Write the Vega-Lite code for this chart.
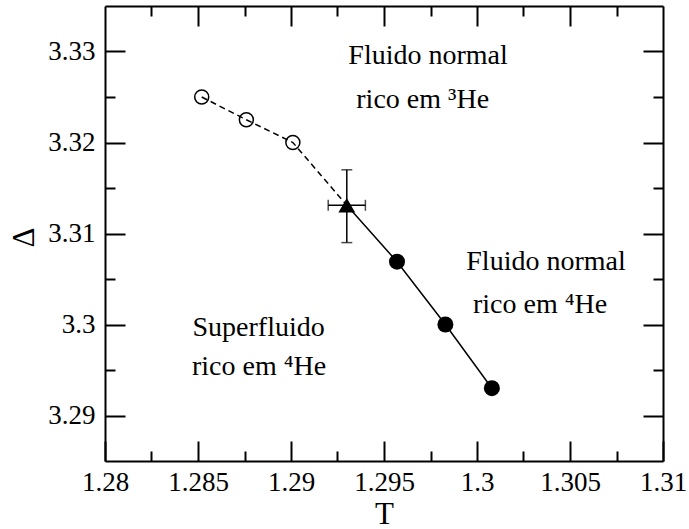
{
  "$schema": "https://vega.github.io/schema/vega-lite/v6.json",
  "autosize": {"type": "none"},
  "width": 558,
  "height": 455,
  "padding": {"left": 105, "top": 6, "right": 26, "bottom": 68},
  "background": "white",
  "config": {
    "view": {"stroke": null},
    "axis": {
      "grid": false,
      "domainColor": "black",
      "domainWidth": 2,
      "tickColor": "black",
      "tickWidth": 2,
      "labelColor": "black",
      "labelFont": "Liberation Serif, Times New Roman, serif",
      "labelFontSize": 27,
      "titleFont": "Liberation Serif, Times New Roman, serif",
      "titleFontSize": 31,
      "titleFontWeight": "normal",
      "titleColor": "black"
    }
  },
  "datasets": {
    "dashed": [
      {"T": 1.2852, "D": 3.3250},
      {"T": 1.2876, "D": 3.3225},
      {"T": 1.2901, "D": 3.3200},
      {"T": 1.2930, "D": 3.3131}
    ],
    "solid": [
      {"T": 1.2930, "D": 3.3131},
      {"T": 1.2957, "D": 3.3069},
      {"T": 1.2983, "D": 3.3000},
      {"T": 1.3008, "D": 3.2930}
    ],
    "open": [
      {"T": 1.2852, "D": 3.3250},
      {"T": 1.2876, "D": 3.3225},
      {"T": 1.2901, "D": 3.3200}
    ],
    "filled": [
      {"T": 1.2957, "D": 3.3069},
      {"T": 1.2983, "D": 3.3000},
      {"T": 1.3008, "D": 3.2930}
    ],
    "critical": [
      {"T": 1.2930, "D": 3.3131, "Tlo": 1.2920, "Thi": 1.2940, "Dlo": 3.3090, "Dhi": 3.3170}
    ],
    "labels": [
      {"T": 1.29737, "D": 3.32865, "label": "Fluido normal"},
      {"T": 1.29708, "D": 3.32383, "label": "rico em ³He"},
      {"T": 1.30371, "D": 3.30599, "label": "Fluido normal"},
      {"T": 1.30339, "D": 3.30124, "label": "rico em ⁴He"},
      {"T": 1.28826, "D": 3.29875, "label": "Superfluido"},
      {"T": 1.28828, "D": 3.29447, "label": "rico em ⁴He"}
    ]
  },
  "resolve": {"axis": {"x": "independent", "y": "independent"}},
  "layer": [
    {
      "data": {"name": "dashed"},
      "mark": {"type": "line", "color": "black", "strokeWidth": 1.5, "strokeDash": [6, 4]},
      "encoding": {
        "x": {
          "field": "T", "type": "quantitative",
          "scale": {"domain": [1.28, 1.31], "nice": false, "zero": false},
          "axis": {
            "orient": "bottom",
            "values": [1.28, 1.2825, 1.285, 1.2875, 1.29, 1.2925, 1.295, 1.2975, 1.3, 1.3025, 1.305, 1.3075, 1.31],
            "labelExpr": "abs(datum.value*200 - round(datum.value*200)) < 0.001 ? '' + datum.value : ''",
            "tickSize": {"condition": {"test": "abs(datum.value*200 - round(datum.value*200)) < 0.001", "value": -20}, "value": -10},
            "labelPadding": 28,
            "labelFlush": false,
            "labelOverlap": false,
            "title": "T",
            "titleX": 279,
            "titleY": 62,
            "titleAlign": "center",
            "titleBaseline": "alphabetic"
          }
        },
        "y": {
          "field": "D", "type": "quantitative",
          "scale": {"domain": [3.285, 3.335], "nice": false, "zero": false},
          "axis": {
            "orient": "left",
            "values": [3.29, 3.295, 3.3, 3.305, 3.31, 3.315, 3.32, 3.325, 3.33],
            "labelExpr": "abs(datum.value*100 - round(datum.value*100)) < 0.001 ? '' + datum.value : ''",
            "tickSize": {"condition": {"test": "abs(datum.value*100 - round(datum.value*100)) < 0.001", "value": -20}, "value": -10},
            "labelPadding": 30,
            "labelFlush": false,
            "labelOverlap": false,
            "title": "Δ",
            "titleX": -81,
            "titleY": 231,
            "titleAngle": -90,
            "titleAlign": "center",
            "titleBaseline": "middle"
          }
        }
      }
    },
    {
      "data": {"name": "solid"},
      "mark": {"type": "line", "color": "black", "strokeWidth": 1.5},
      "encoding": {
        "x": {
          "field": "T", "type": "quantitative",
          "axis": {
            "orient": "top",
            "values": [1.2825, 1.285, 1.2875, 1.29, 1.2925, 1.295, 1.2975, 1.3, 1.3025, 1.305, 1.3075],
            "labels": false,
            "tickSize": {"condition": {"test": "abs(datum.value*200 - round(datum.value*200)) < 0.001", "value": -20}, "value": -10},
            "title": null
          }
        },
        "y": {
          "field": "D", "type": "quantitative",
          "axis": {
            "orient": "right",
            "values": [3.29, 3.295, 3.3, 3.305, 3.31, 3.315, 3.32, 3.325, 3.33],
            "labels": false,
            "tickSize": {"condition": {"test": "abs(datum.value*100 - round(datum.value*100)) < 0.001", "value": -20}, "value": -10},
            "title": null
          }
        }
      }
    },
    {
      "data": {"name": "open"},
      "mark": {"type": "point", "shape": "circle", "filled": false, "color": "black", "strokeWidth": 1.5, "size": 196, "opacity": 1},
      "encoding": {
        "x": {"field": "T", "type": "quantitative", "axis": null},
        "y": {"field": "D", "type": "quantitative", "axis": null}
      }
    },
    {
      "data": {"name": "filled"},
      "mark": {"type": "point", "shape": "circle", "filled": true, "color": "black", "size": 256, "opacity": 1},
      "encoding": {
        "x": {"field": "T", "type": "quantitative", "axis": null},
        "y": {"field": "D", "type": "quantitative", "axis": null}
      }
    },
    {
      "data": {"name": "critical"},
      "mark": {"type": "errorbar", "color": "black", "ticks": {"size": 11, "thickness": 1.5, "color": "black"}, "rule": {"strokeWidth": 1.5}},
      "encoding": {
        "x": {"field": "T", "type": "quantitative", "axis": null},
        "y": {"field": "Dlo", "type": "quantitative", "axis": null},
        "y2": {"field": "Dhi"}
      }
    },
    {
      "data": {"name": "critical"},
      "mark": {"type": "errorbar", "color": "black", "ticks": {"size": 11, "thickness": 1.5, "color": "black"}, "rule": {"strokeWidth": 1.5}},
      "encoding": {
        "y": {"field": "D", "type": "quantitative", "axis": null},
        "x": {"field": "Tlo", "type": "quantitative", "axis": null},
        "x2": {"field": "Thi"}
      }
    },
    {
      "data": {"name": "critical"},
      "mark": {"type": "point", "shape": "triangle-up", "filled": true, "color": "black", "size": 280, "opacity": 1},
      "encoding": {
        "x": {"field": "T", "type": "quantitative", "axis": null},
        "y": {"field": "D", "type": "quantitative", "axis": null}
      }
    },
    {
      "data": {"name": "labels"},
      "mark": {"type": "text", "font": "Liberation Serif, Times New Roman, serif", "fontSize": 28, "align": "center", "baseline": "alphabetic", "color": "black"},
      "encoding": {
        "x": {"field": "T", "type": "quantitative", "axis": null},
        "y": {"field": "D", "type": "quantitative", "axis": null},
        "text": {"field": "label"}
      }
    }
  ]
}
